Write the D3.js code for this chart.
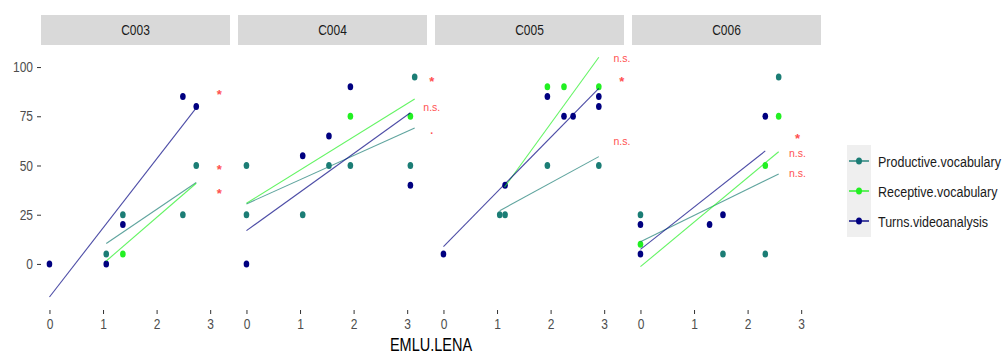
<!DOCTYPE html>
<html>
<head>
<meta charset="utf-8">
<script src="https://cdn.jsdelivr.net/npm/d3@7"></script>
<style>
  body { margin: 0; background: #fff; }
  text { font-family: "Liberation Sans", Arial, sans-serif; }
</style>
</head>
<body>
<div id="chart"></div>
<script>

const panels = ["C003", "C004", "C005", "C006"];
const seriesNames = ["Productive.vocabulary", "Receptive.vocabulary", "Turns.videoanalysis"];
const seriesColors = ["#1b7d75", "#22f022", "#000080"];
const xTicks = [0, 1, 2, 3];
const yTicks = [0, 25, 50, 75, 100];

// points
const productive = [
  {p: "C003", x: 1.06, y: 5}, {p: "C003", x: 1.37, y: 25}, {p: "C003", x: 2.49, y: 25}, {p: "C003", x: 2.74, y: 50},
  {p: "C004", x: 0, y: 50}, {p: "C004", x: 0, y: 25}, {p: "C004", x: 1.05, y: 25}, {p: "C004", x: 1.54, y: 50},
  {p: "C004", x: 1.94, y: 50}, {p: "C004", x: 3.06, y: 50}, {p: "C004", x: 3.14, y: 95},
  {p: "C005", x: 1.05, y: 25}, {p: "C005", x: 1.15, y: 25}, {p: "C005", x: 1.94, y: 50}, {p: "C005", x: 2.9, y: 50},
  {p: "C006", x: 0, y: 25}, {p: "C006", x: 1.54, y: 5}, {p: "C006", x: 2.33, y: 5}, {p: "C006", x: 2.58, y: 95}
];
const receptive = [
  {p: "C003", x: 1.37, y: 5},
  {p: "C004", x: 1.94, y: 75}, {p: "C004", x: 3.06, y: 75},
  {p: "C005", x: 1.94, y: 90}, {p: "C005", x: 2.25, y: 90}, {p: "C005", x: 2.9, y: 90},
  {p: "C006", x: 0, y: 10}, {p: "C006", x: 2.33, y: 50}, {p: "C006", x: 2.58, y: 75}
];
const turns = [
  {p: "C003", x: 0, y: 0}, {p: "C003", x: 1.06, y: 0}, {p: "C003", x: 1.37, y: 20}, {p: "C003", x: 2.49, y: 85}, {p: "C003", x: 2.74, y: 80},
  {p: "C004", x: 0, y: 0}, {p: "C004", x: 1.05, y: 55}, {p: "C004", x: 1.54, y: 65}, {p: "C004", x: 1.94, y: 90}, {p: "C004", x: 3.06, y: 40},
  {p: "C005", x: 0, y: 5}, {p: "C005", x: 1.15, y: 40}, {p: "C005", x: 1.94, y: 85}, {p: "C005", x: 2.25, y: 75},
  {p: "C005", x: 2.42, y: 75}, {p: "C005", x: 2.9, y: 85}, {p: "C005", x: 2.9, y: 80},
  {p: "C006", x: 0, y: 20}, {p: "C006", x: 0, y: 5}, {p: "C006", x: 1.29, y: 20}, {p: "C006", x: 1.54, y: 25}, {p: "C006", x: 2.33, y: 75}
];

// fitted lines (start / end)
const fitProductive = [
  {p: "C003", x0: 1.06, y0: 10.4, x1: 2.74, y1: 41.4},
  {p: "C004", x0: 0, y0: 30.5, x1: 3.14, y1: 69},
  {p: "C005", x0: 1.05, y0: 27, x1: 2.9, y1: 54.5},
  {p: "C006", x0: 0, y0: 11.3, x1: 2.58, y1: 45.7}
];
const fitReceptive = [
  {p: "C003", x0: 1.06, y0: 1.5, x1: 2.74, y1: 41},
  {p: "C004", x0: 0, y0: 30.8, x1: 3.14, y1: 83.8},
  {p: "C005", x0: 1.14, y0: 39, x1: 2.9, y1: 105},
  {p: "C006", x0: 0, y0: -1.4, x1: 2.58, y1: 57}
];
const fitTurns = [
  {p: "C003", x0: 0, y0: -16.8, x1: 2.74, y1: 79.3},
  {p: "C004", x0: 0, y0: 16.9, x1: 3.06, y1: 76.8},
  {p: "C005", x0: 0, y0: 8.8, x1: 2.9, y1: 89.2},
  {p: "C006", x0: 0, y0: 7.4, x1: 2.33, y1: 57.4}
];

const signif = [
  {p: "C003", x: 3.17, y: 87.5, t: "*"}, {p: "C003", x: 3.17, y: 49.4, t: "*"}, {p: "C003", x: 3.17, y: 37, t: "*"},
  {p: "C004", x: 3.46, y: 94, t: "*"}, {p: "C004", x: 3.46, y: 79, t: "n.s."}, {p: "C004", x: 3.46, y: 66.6, t: "."},
  {p: "C005", x: 3.33, y: 104, t: "n.s."}, {p: "C005", x: 3.33, y: 94.2, t: "*"}, {p: "C005", x: 3.33, y: 61.6, t: "n.s."},
  {p: "C006", x: 2.93, y: 65, t: "*"}, {p: "C006", x: 2.93, y: 55.8, t: "n.s."}, {p: "C006", x: 2.93, y: 45.8, t: "n.s."}
];

const pointSets = [productive, receptive, turns];
const fitSets = [fitProductive, fitReceptive, fitTurns];

const W = 1004, H = 354;
const sy = 1.22; // the picture is a little stretched vertically
const left0 = 41, panelW = 189, panelStep = 197;
const panelTop = 45, panelBottom = 310;

const svg = d3.select("#chart").append("svg")
  .attr("width", W).attr("height", H);

const x = d3.scaleLinear().domain([-0.158, 3.37]).range([0, panelW]);
const y = d3.scaleLinear().domain([-23.4, 111.2]).range([panelBottom, panelTop]);

function stretchText(g, px, py, str, k = sy) {
  return g.append("text")
    .attr("transform", `translate(${px},${py}) scale(1,${k})`)
    .text(str);
}

panels.forEach((name, i) => {
  const g = svg.append("g").attr("transform", `translate(${left0 + i * panelStep},0)`);

  // strip
  g.append("rect")
    .attr("x", 0).attr("y", 15).attr("width", panelW).attr("height", 30)
    .attr("fill", "#d9d9d9");
  stretchText(g, panelW / 2, 30, name)
    .attr("text-anchor", "middle").attr("dy", "0.36em")
    .attr("font-size", 12).attr("fill", "#1a1a1a");

  // x axis
  const xa = g.append("g")
    .attr("transform", `translate(0,${panelBottom})`)
    .call(d3.axisBottom(x).tickValues(xTicks).tickFormat(d3.format("d")).tickSize(4).tickPadding(3));
  xa.select(".domain").remove();
  xa.selectAll(".tick line").attr("stroke", "#333");
  xa.selectAll(".tick text").attr("font-size", 12).attr("fill", "#4d4d4d")
    .attr("font-family", "Liberation Sans, Arial, sans-serif")
    .attr("transform", `scale(1,${sy})`);

  if (i === 0) {
    const ya = g.append("g")
      .call(d3.axisLeft(y).tickValues(yTicks).tickSize(4).tickPadding(4));
    ya.select(".domain").remove();
    ya.selectAll(".tick line").attr("stroke", "#333");
    ya.selectAll(".tick text").attr("font-size", 12).attr("fill", "#4d4d4d")
      .attr("font-family", "Liberation Sans, Arial, sans-serif")
      .attr("transform", `scale(1,${sy})`);
  }

  // points
  pointSets.forEach((set, s) => {
    g.selectAll(null)
      .data(set.filter(d => d.p === name))
      .join("ellipse")
      .attr("cx", d => x(d.x)).attr("cy", d => y(d.y))
      .attr("rx", 2.8).attr("ry", 3.5)
      .attr("fill", seriesColors[s]);
  });

  // fitted lines
  fitSets.forEach((set, s) => {
    g.selectAll(null)
      .data(set.filter(d => d.p === name))
      .join("line")
      .attr("x1", d => x(d.x0)).attr("y1", d => y(d.y0))
      .attr("x2", d => x(d.x1)).attr("y2", d => y(d.y1))
      .attr("stroke", seriesColors[s])
      .attr("stroke-opacity", 0.7)
      .attr("stroke-width", 1.1);
  });

  // significance labels
  signif.filter(d => d.p === name).forEach(d => {
    const star = d.t === "*";
    const shift = star ? 0.56 : d.t === "." ? 0.08 : 0.27;
    const fs = star ? 13 : 10.5;
    stretchText(g, x(d.x), y(d.y), d.t, 1)
      .attr("text-anchor", "middle")
      .attr("dy", (shift * fs) + "px")
      .attr("font-size", fs)
      .attr("font-weight", star || d.t === "." ? "bold" : "normal")
      .attr("fill", "#ff5050");
  });
});

// x axis title
stretchText(svg, left0 + (3 * panelStep + panelW) / 2, 345, "EMLU.LENA")
  .attr("text-anchor", "middle").attr("dy", "0.36em")
  .attr("font-size", 14.5).attr("fill", "#000");

// legend
const lg = svg.append("g").attr("transform", "translate(847,145)");
lg.append("rect").attr("width", 24).attr("height", 92).attr("fill", "#efefef");
seriesNames.forEach((n, i) => {
  const cy = 16 + i * 30;
  lg.append("line")
    .attr("x1", 2).attr("x2", 22).attr("y1", cy).attr("y2", cy)
    .attr("stroke", seriesColors[i]).attr("stroke-width", 1.4);
  lg.append("ellipse")
    .attr("cx", 12).attr("cy", cy).attr("rx", 3).attr("ry", 3.6)
    .attr("fill", seriesColors[i]);
  stretchText(lg, 31, cy, n)
    .attr("dy", "0.36em").attr("font-size", 12.5).attr("fill", "#1a1a1a");
});
</script>
</body>
</html>
